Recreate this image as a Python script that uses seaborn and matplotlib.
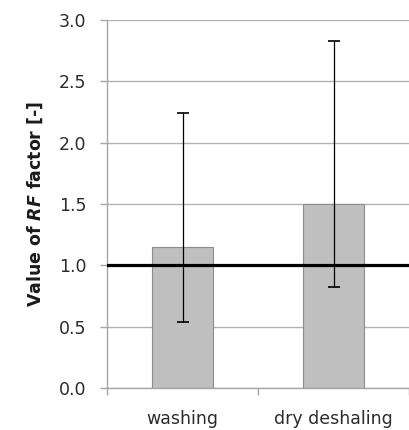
import matplotlib
matplotlib.use("Agg")
import matplotlib.pyplot as plt
import seaborn as sns
import pandas as pd
import numpy as np

categories = ["washing", "dry deshaling"]
values = [1.15, 1.50]
err_low = [0.535, 0.82]
err_high = [2.24, 2.83]
yticks = [0.0, 0.5, 1.0, 1.5, 2.0, 2.5, 3.0]
ref_value = 1.0

sns.set_theme(style="white")
plt.rcParams['font.family'] = ['DejaVu Sans']
plt.rcParams['mathtext.fontset'] = 'dejavusans'

df = pd.DataFrame({"method": categories, "rf": values})

fig = plt.figure(figsize=(4.09, 4.30), dpi=100)
ax = fig.add_axes([107/409, 42/430, 302/409, 368/430])

sns.barplot(data=df, x="method", y="rf", ax=ax, color="#bfbfbf",
            saturation=1, width=0.41, edgecolor="#8c8c8c", linewidth=0.8,
            errorbar=None, zorder=2)

pos = np.arange(len(categories))
vals = np.array(values)
yerr = np.vstack([vals - np.array(err_low), np.array(err_high) - vals])
ax.errorbar(pos, vals, yerr=yerr, fmt="none", ecolor="black",
            elinewidth=0.9, capsize=4.3, capthick=1.2, zorder=4)

ax.axhline(ref_value, color="black", linewidth=2.3, zorder=5)

ax.set_ylim(0, 3.0)
ax.set_xlim(-0.5, -0.5 + 302/155)
ax.set_yticks(yticks)
ax.set_yticklabels([f"{t:.1f}" for t in yticks])
ax.yaxis.grid(True, color="#b3b3b3", linewidth=1.0, zorder=0)
ax.set_axisbelow(True)

for s in ["top", "right"]:
    ax.spines[s].set_visible(False)
for s in ["left", "bottom"]:
    ax.spines[s].set_color("#a6a6a6")
    ax.spines[s].set_linewidth(1.0)

ax.tick_params(axis="y", which="major", left=True, length=5, width=1.0,
               color="#a6a6a6", pad=10, labelsize=12.5, labelcolor="#2b2b2b")
ax.tick_params(axis="x", which="major", bottom=False, length=0, pad=16,
               labelsize=12.5, labelcolor="#2b2b2b")
ax.set_xticks([-0.5, 0.5, 1.5], minor=True)
ax.tick_params(axis="x", which="minor", bottom=True, length=5, width=1.0,
               color="#a6a6a6")

ax.set_xlabel("")
ax.set_ylabel(r"Value of $\mathbfit{RF}$ factor [-]", fontsize=12.5,
              fontweight="bold", color="#1a1a1a", labelpad=10)

fig.savefig("out.png", dpi=100)
